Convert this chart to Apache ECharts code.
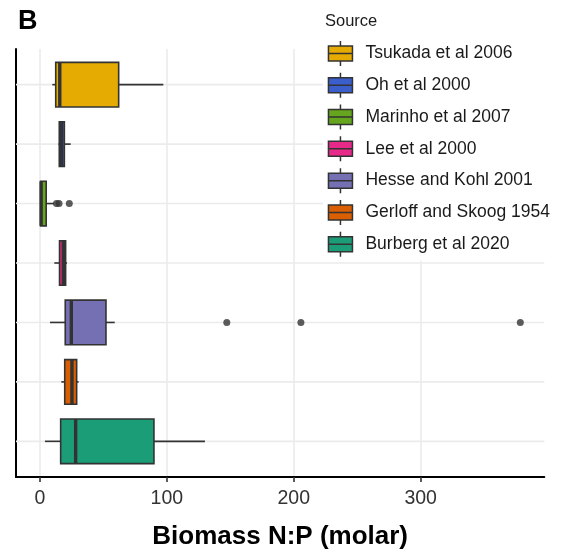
<!DOCTYPE html>
<html>
<head>
<meta charset="utf-8">
<script src="https://cdn.jsdelivr.net/npm/echarts@6/dist/echarts.min.js"></script>
<style>
  html, body { margin: 0; padding: 0; background: #ffffff; }
  #chart { width: 563px; height: 555px; }
</style>
</head>
<body>
<div id="chart"></div>
<script>
// Sources, listed top to bottom
const sources = [
  'Tsukada et al 2006',
  'Oh et al 2000',
  'Marinho et al 2007',
  'Lee et al 2000',
  'Hesse and Kohl 2001',
  'Gerloff and Skoog 1954',
  'Burberg et al 2020'
];
const fillColors = ['#E6AB02', '#3A5FCD', '#66A61E', '#E7298A', '#7570B3', '#D95F02', '#1B9E77'];

// Box statistics of biomass N:P (molar), one entry per source
const lowerWhisker = [9.7, 14.6, 0.3, 11.3, 7.9, 16.8, 3.9];
const lowerHinge   = [12.4, 15.2, 0.5, 15.4, 19.9, 19.5, 16.3];
const medians      = [15.6, 17.0, 0.9, 18.4, 24.7, 25.2, 28.1];
const upperHinge   = [62.0, 19.2, 4.9, 20.2, 52.0, 28.9, 89.8];
const upperWhisker = [97.2, 24.2, 11.0, 21.3, 58.9, 30.5, 130.0];

// Outlying points: index of the source and its value
const outlierSource = [2, 2, 2, 4, 4, 4];
const outlierValues = [13.0, 15.0, 23.1, 147.2, 205.6, 378.5];

// Axis
const xTicks = [0, 100, 200, 300];
const X_MIN = -18.9;
const X_MAX = 397.4;
const BOX_SPAN = 0.75;

const FONT = '"Liberation Sans", Arial, Helvetica, sans-serif';
const EDGE = '#333333';
const GRID_COLOR = '#EBEBEB';

// Horizontal box: whiskers, hinge rectangle and a heavier median bar
function renderBox(params, api) {
  const pos = api.value(0);
  const xLo  = api.coord([api.value(1), pos])[0];
  const xQ1  = api.coord([api.value(2), pos])[0];
  const xMed = api.coord([api.value(3), pos])[0];
  const xQ3  = api.coord([api.value(4), pos])[0];
  const xHi  = api.coord([api.value(5), pos])[0];
  const yc = api.coord([api.value(3), pos])[1];
  const h = Math.abs(api.size([0, BOX_SPAN])[1]);
  const stroke = { stroke: EDGE, lineWidth: 1.6 };
  return {
    type: 'group',
    children: [
      { type: 'line', shape: { x1: xLo, y1: yc, x2: xQ1, y2: yc }, style: stroke },
      { type: 'line', shape: { x1: xQ3, y1: yc, x2: xHi, y2: yc }, style: stroke },
      { type: 'rect', shape: { x: xQ1, y: yc - h / 2, width: xQ3 - xQ1, height: h },
        style: { fill: api.visual('color'), stroke: EDGE, lineWidth: 1.6 } },
      { type: 'line', shape: { x1: xMed, y1: yc - h / 2, x2: xMed, y2: yc + h / 2 },
        style: { stroke: EDGE, lineWidth: 3.4 } }
    ]
  };
}

// Horizontal grid line through each source row
function renderRowLine(params, api) {
  const y = api.coord([0, api.value(1)])[1];
  const cs = params.coordSys;
  return {
    type: 'line',
    shape: { x1: cs.x, y1: y, x2: cs.x + cs.width, y2: y },
    style: { stroke: GRID_COLOR, lineWidth: 1.6 }
  };
}

const boxSeries = sources.map((name, i) => ({
  type: 'custom',
  name: name,
  z: 3,
  itemStyle: { color: fillColors[i], borderColor: EDGE, borderWidth: 1.5 },
  encode: { x: [1, 2, 3, 4, 5], y: 0 },
  data: [[i + 1, lowerWhisker[i], lowerHinge[i], medians[i], upperHinge[i], upperWhisker[i]]],
  renderItem: renderBox,
  silent: true
}));

const chart = echarts.init(document.getElementById('chart'), null, { renderer: 'canvas' });

chart.setOption({
  animation: false,
  backgroundColor: '#ffffff',
  grid: { left: 16, right: 18.7, top: 49, bottom: 77 },
  graphic: [
    { type: 'text', left: 18, top: 8.5, z: 10,
      style: { text: 'B', font: 'bold 27px ' + FONT, fill: '#000000' } },
    { type: 'text', left: 325, top: 13, z: 10,
      style: { text: 'Source', font: '16.5px ' + FONT, fill: '#1a1a1a' } }
  ],
  legend: {
    orient: 'vertical',
    left: 323,
    top: 40.2,
    padding: [0, 10, 3, 4.7],
    backgroundColor: '#ffffff',
    itemWidth: 24,
    itemHeight: 25,
    itemGap: 5.3,
    selectedMode: false,
    icon: 'path://M0,5L24,5L24,20L0,20ZM0,12.5L24,12.5M12,0L12,5M12,20L12,25',
    data: sources.map((n, i) => ({
      name: n,
      itemStyle: { color: fillColors[i], borderColor: EDGE, borderWidth: 1.5 }
    })),
    textStyle: { fontSize: 17.5, color: '#1a1a1a', fontFamily: FONT, padding: [0, 0, 0, 8] }
  },
  xAxis: {
    type: 'value',
    min: X_MIN,
    max: X_MAX,
    axisLine: { show: true, onZero: false, lineStyle: { color: '#000000', width: 2 } },
    axisTick: { show: true, length: 5, customValues: xTicks, lineStyle: { color: '#333333', width: 1.6 } },
    axisLabel: { customValues: xTicks, fontSize: 19.5, color: '#333333', margin: 12, fontFamily: FONT },
    splitLine: { show: true, lineStyle: { color: GRID_COLOR, width: 1.6 } },
    name: 'Biomass N:P (molar)',
    nameLocation: 'middle',
    nameGap: 47,
    nameTextStyle: { fontSize: 26, fontWeight: 'bold', color: '#000000', fontFamily: FONT }
  },
  yAxis: {
    type: 'value',
    inverse: true,
    min: 0.4,
    max: 7.6,
    axisLine: { show: true, onZero: false, lineStyle: { color: '#000000', width: 2 } },
    axisTick: { show: false },
    axisLabel: { show: false },
    splitLine: { show: false }
  },
  series: [
    {
      type: 'custom',
      name: 'rows',
      z: 1,
      silent: true,
      encode: { x: 0, y: 1 },
      data: sources.map((_, i) => [0, i + 1]),
      renderItem: renderRowLine
    },
    ...boxSeries,
    {
      type: 'scatter',
      name: 'outliers',
      z: 4,
      silent: true,
      symbol: 'circle',
      symbolSize: 7,
      itemStyle: { color: '#333333' },
      data: outlierValues.map((v, k) => [v, outlierSource[k] + 1])
    }
  ]
});
</script>
</body>
</html>
